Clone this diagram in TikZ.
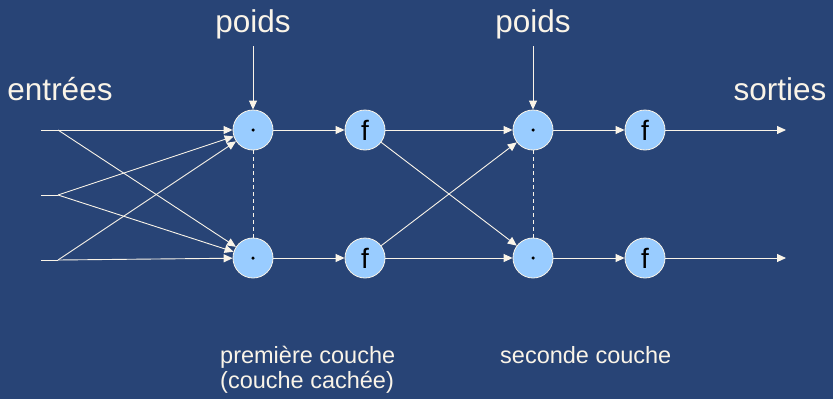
\documentclass[tikz,border=0pt]{standalone}
\usepackage{fontspec}
\setmainfont{Liberation Sans}
\usetikzlibrary{arrows.meta}
\definecolor{bg}{RGB}{40,68,118}
\definecolor{ink}{RGB}{250,244,232}
\definecolor{cell}{RGB}{153,204,255}
\begin{document}
\begin{tikzpicture}[x=1pt,y=-1pt,
  neuron/.style={circle,draw=ink,line width=0.8pt,fill=cell,minimum size=40pt,inner sep=0pt,font=\fontsize{28}{28}\selectfont,text=black},
  dotmark/.style={circle,fill=black,minimum size=3.5pt,inner sep=0pt},
  wire/.style={draw=ink,line width=0.9pt},
  arr/.style={wire,-{Triangle[length=9pt,width=8pt]}},
  lab/.style={text=ink,font=\fontsize{31.5}{32}\selectfont,inner sep=0pt},
  small/.style={text=ink,font=\fontsize{23.5}{25}\selectfont,inner sep=0pt,align=left}]
\fill[bg] (0,0) rectangle (833,399);
\useasboundingbox (0,0) rectangle (833,399);
% nodes
\node[neuron] (d1) at (253,130) {};
\node[neuron] (d2) at (253,258) {};
\node[neuron] (f1) at (365,130) {f};
\node[neuron] (f2) at (365,258) {f};
\node[neuron] (e1) at (533,130) {};
\node[neuron] (e2) at (533,258) {};
\node[neuron] (g1) at (645,130) {f};
\node[neuron] (g2) at (645,258) {f};
\node[dotmark] (m1) at (d1.center) {};
\node[dotmark] (m2) at (d2.center) {};
\node[dotmark] (m3) at (e1.center) {};
\node[dotmark] (m4) at (e2.center) {};
% labels
\node[lab] (p1) at (253,24) {poids};
\node[lab] (p2) at (533,24) {poids};
\node[lab] (in) at (60,89) {entrées};
\node[lab] (out) at (780,89) {sorties};
\node[small,anchor=north west] (c1) at (220,346) {première couche\\(couche cachée)};
\node[small,anchor=north west] (c2) at (500,346) {seconde couche};
% input coordinates
\coordinate (a1) at (41,130); \coordinate (b1) at (58,130);
\coordinate (a2) at (41,195); \coordinate (b2) at (58,195);
\coordinate (a3) at (41,260); \coordinate (b3) at (58,260);
\coordinate (o1) at (786,130); \coordinate (o2) at (786,258);
\coordinate (q1) at (253,46); \coordinate (q2) at (533,46);
% input wiring
\draw[wire] (a1) -- (b1); \draw[wire] (a2) -- (b2); \draw[wire] (a3) -- (b3);
\draw[arr] (b1) -- (d1); \draw[arr] (b1) -- (d2);
\draw[arr] (b2) -- (d1); \draw[arr] (b2) -- (d2);
\draw[arr] (b3) -- (d1); \draw[arr] (b3) -- (d2);
% weights
\draw[arr] (q1) -- (d1); \draw[arr] (q2) -- (e1);
% layers
\draw[arr] (d1) -- (f1); \draw[arr] (d2) -- (f2);
\draw[arr] (f1) -- (e1); \draw[arr] (f1) -- (e2);
\draw[arr] (f2) -- (e1); \draw[arr] (f2) -- (e2);
\draw[arr] (e1) -- (g1); \draw[arr] (e2) -- (g2);
\draw[arr] (g1) -- (o1); \draw[arr] (g2) -- (o2);
% dashed
\draw[wire,line width=0.7pt,dash pattern=on 4pt off 3pt] (d1) -- (d2);
\draw[wire,line width=0.7pt,dash pattern=on 4pt off 3pt] (e1) -- (e2);
\end{tikzpicture}
\end{document}
